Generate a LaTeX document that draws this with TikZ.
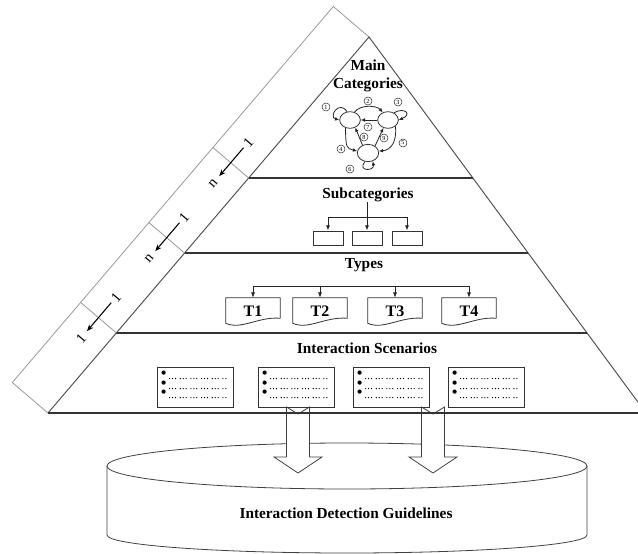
\documentclass[tikz,border=0pt]{standalone}
\usepackage{fontspec}
\setmainfont{Liberation Serif}
\usepackage{tikz}
\usetikzlibrary{arrows.meta,calc,shapes.geometric}
\tikzset{
  pyr-edge/.style={draw=black!70, line width=0.7pt},
  pyr-level/.style={draw=black!80, line width=1.3pt},
  pyr-strip/.style={draw=black!40, line width=0.6pt},
  pyr-title/.style={font=\fontsize{11.5}{13.5}\selectfont\bfseries, align=center, inner sep=0pt},
  pyr-card/.style={font=\fontsize{11}{12}\selectfont, inner sep=0.5pt, rotate=49.5},
  pyr-card-arrow/.style={-{Stealth[length=5pt,width=4pt]}, line width=0.8pt, shorten <=2pt, shorten >=3.5pt},
  cat-state/.style={draw=black!80, ellipse, line width=0.6pt, minimum width=15.5pt, minimum height=12.5pt, inner sep=0pt},
  cat-num/.style={draw=black!80, circle, line width=0.4pt, minimum size=6pt, inner sep=0pt, font=\fontsize{4.6}{4.6}\selectfont},
  cat-arrow/.style={-{Latex[length=3.2pt,width=2.8pt]}, line width=0.6pt, draw=black!85},
  sub-box/.style={draw=black!80, line width=0.6pt, minimum width=22.5pt, minimum height=10.5pt, inner sep=0pt},
  tree-line/.style={draw=black!85, line width=0.6pt},
  tree-arrow/.style={tree-line, -{Latex[length=4pt,width=3pt]}},
  type-doc/.style={font=\fontsize{12}{14}\selectfont\bfseries, minimum width=40.5pt, minimum height=19.5pt, inner sep=0pt},
  doc-outline/.style={draw=black!80, line width=0.6pt},
  scen-box/.style={draw=black!80, line width=0.6pt, minimum width=57pt, minimum height=30pt, inner sep=0pt},
  scen-dots/.style={line width=1pt, line cap=round, dash pattern=on 0pt off 2.2pt on 0pt off 2.2pt on 0pt off 3.6pt},
  flow-arrow/.style={draw=black!75, fill=white, line width=0.6pt, line join=miter},
  guide-drum/.style={draw=black!75, line width=0.6pt}
}

\begin{document}
\begin{tikzpicture}[x=0.75pt, y=-0.75pt, >=Latex]
  \useasboundingbox (0,0) rectangle (638,553);
  \clip (0,0) rectangle (638,553);

  \draw[guide-drum] (107,466) -- (107,535) arc[start angle=180, end angle=360, x radius=180pt, y radius=13.5pt] -- (587,466);
  \draw[guide-drum] (347,466) ellipse [x radius=180pt, y radius=17.25pt];
  \node[pyr-title] (guide) at (346,513) {Interaction Detection Guidelines};

  \coordinate (flow1) at (298,407);
  \coordinate (flow2) at (433,407);
  \foreach \k in {1,2} {
    \draw[flow-arrow] ($(flow\k)+(-11.5,0)$) -- ++(11.5,7) -- ++(11.5,-7) -- ++(0,50) -- ++(12.5,0)
      -- ($(flow\k)+(0,66)$) -- ($(flow\k)+(-24,50)$) -- ++(12.5,0) -- cycle;
  }

  \coordinate (apex) at (369,37);
  \coordinate (bl) at (48,413);
  \coordinate (br) at (646,413);

  \draw[pyr-strip] (apex) -- ++(-35.7,-30.5) -- ($(bl)+(-35.7,-30.5)$) -- (bl);
  \draw[pyr-edge] (bl) -- (apex) -- (br);
  \draw[pyr-level] (bl) -- (br);

  \foreach \f/\k/\cardA/\cardB in {0.375/1/1/n, 0.5745/2/1/n, 0.787/3/1/1} {
    \coordinate (l\k) at ($(apex)!\f!(bl)$);
    \coordinate (r\k) at ($(apex)!\f!(br)$);
    \draw[pyr-level] (l\k) -- (r\k);
    \draw[pyr-strip] (l\k) -- ++(-35.7,-30.5);
    \node[pyr-card] (card\k-up) at ($(l\k)+(-0.4,-35.8)$) {\cardA};
    \node[pyr-card] (card\k-low) at ($(l\k)+(-35.4,5.2)$) {\cardB};
    \draw[pyr-card-arrow] (card\k-up) -- (card\k-low);
  }

  \node[pyr-title] (main) at (368,76) {Main\\Categories};
  \node[cat-state] (e1) at (350,120) {};
  \node[cat-state] (e2) at (388,120) {};
  \node[cat-state, minimum width=16pt, minimum height=13pt] (e3) at (368,153) {};
  \node[cat-num] (k1) at (326,107) {1};
  \node[cat-num] (k2) at (368,101) {2};
  \node[cat-num] (k3) at (398,102) {3};
  \node[cat-num] (k4) at (341,149) {4};
  \node[cat-num] (k5) at (403,143) {5};
  \node[cat-num] (k6) at (350,169) {6};
  \node[cat-num] (k7) at (368,127) {7};
  \node[cat-num] (k8) at (364,137) {8};
  \node[cat-num] (k9) at (384,138) {9};
  \draw[cat-arrow] (e1.110) .. controls +(-8,-12) and +(-11,-3) .. (e1.west);
  \draw[cat-arrow] (e1.60) .. controls +(6,-8) and +(-6,-7) .. (e2.125);
  \draw[cat-arrow] (e2.50) .. controls +(10,-6) and +(14,-6) .. (e2.east);
  \draw[cat-arrow] (e2.west) -- (e1.east);
  \draw[cat-arrow] (e3.125) -- (e1.-55);
  \draw[cat-arrow] (e3.45) -- (e2.-120);
  \draw[cat-arrow] (e1.-120) .. controls (346,148) .. (e3.170);
  \draw[cat-arrow] (e2.-40) .. controls (397,140) and (392,150) .. (e3.10);
  \draw[cat-arrow] (e3.-110) .. controls +(-8,10) and +(2,10) .. (e3.-60);

  \node[pyr-title] (subcat) at (368,195) {Subcategories};
  \node[sub-box] (sub1) at (328,238) {};
  \node[sub-box] (sub2) at (367,238) {};
  \node[sub-box] (sub3) at (407,238) {};
  \coordinate (subbar) at (367,217);
  \draw[tree-arrow] (subcat.south -| sub2) -- (sub2);
  \draw[tree-arrow] (subbar) -| (sub1);
  \draw[tree-arrow] (subbar) -| (sub3);

  \node[pyr-title] (types) at (364,265) {Types};
  \foreach \k/\x in {1/253,2/320,3/395,4/469} {
    \node[type-doc] (type\k) at (\x,311) {T\k};
    \draw[doc-outline] ($(type\k.south west)+(0,-1)$) -- (type\k.north west) -- (type\k.north east)
      -- ($(type\k.south east)+(0,-6)$) .. controls ($(type\k.south)+(6,-8)$) and ($(type\k.south)+(-12,6)$)
      .. ($(type\k.south west)+(0,-1)$) -- cycle;
  }
  \coordinate (typebar) at (364,286);
  \draw[tree-line] (type1.north |- typebar) -- (type4.north |- typebar);
  \foreach \k in {1,...,4}
    \draw[tree-arrow] (type\k.north |- typebar) -- (type\k.north);

  \node[pyr-title] (scen) at (367,348) {Interaction Scenarios};
  \foreach \k/\x in {1/195,2/296,3/391,4/486} {
    \node[scen-box] (scen\k) at (\x,387) {};
    \foreach \dy in {6,16,25}
      \fill ($(scen\k.north west)+(7,\dy)$) circle (1.6pt);
    \foreach \dy in {12,22,31}
      \draw[scen-dots] ($(scen\k.north west)+(13,\dy)$) -- ($(scen\k.north east)+(-6,\dy)$);
  }
\end{tikzpicture}
\end{document}
